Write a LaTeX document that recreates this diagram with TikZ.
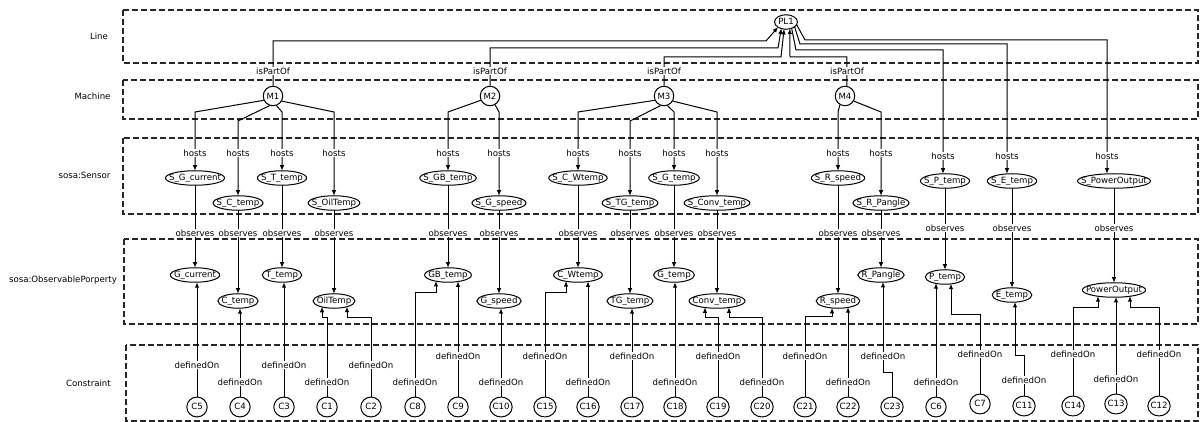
\documentclass[tikz,border=0pt]{standalone}
\usepackage{fontspec}
\setmainfont{DejaVu Sans}
\usetikzlibrary{arrows.meta,calc}
\begin{document}
\begin{tikzpicture}[x=1pt,y=-1pt,
 every node/.style={font=\fontsize{8.6}{10}\selectfont, text=black},
 ent/.style={inner xsep=3.5pt, inner ysep=3pt, text height=6.2pt, text depth=1.9pt},
 cnd/.style={inner xsep=2.5pt, inner ysep=2pt, text height=6.2pt, text depth=1.9pt, minimum width=20pt, minimum height=19.5pt},
 mach/.style={draw, circle, line width=1pt, inner sep=0pt, minimum size=19.5pt},
 lay/.style={dash pattern=on 6pt off 3pt, line width=1.1pt, draw=black!85},
 conn/.style={line width=1pt},
 arr/.style={conn, -{Latex[length=5.5pt,width=4.5pt]}},
 lbl/.style={fill=white, inner sep=1pt},
]
\useasboundingbox (0,0) rectangle (1203,422);

% layer boxes
\draw[lay] (123,10) rectangle (1198,63);
\draw[lay] (123,80) rectangle (1198,119);
\draw[lay] (123,138) rectangle (1198,214);
\draw[lay] (124,239) rectangle (1198,324);
\draw[lay] (126,345) rectangle (1198,421);

% layer labels
\node (lLine) at (99,36) {Line};
\node (lMachine) at (92.5,96) {Machine};
\node (lSensor) at (84.5,175) {sosa:Sensor};
\node (lProp) at (63,280) {sosa:ObservablePorperty};
\node (lConstraint) at (88.5,383) {Constraint};

% line and machines
\node[ent] (PL1) at (786,22) {PL1};
\node[mach] (M1) at (273,96) {M1};
\node[mach] (M2) at (490,96) {M2};
\node[mach] (M3) at (664,96) {M3};
\node[mach] (M4) at (845,96) {M4};

% sensors
\node[ent] (S_G_current) at (195,178) {S\_G\_current};
\node[ent] (S_C_temp) at (238,203) {S\_C\_temp};
\node[ent] (S_T_temp) at (282,178) {S\_T\_temp};
\node[ent] (S_OilTemp) at (334,203) {S\_OilTemp};
\node[ent] (S_GB_temp) at (448,178) {S\_GB\_temp};
\node[ent] (S_G_speed) at (499,203) {S\_G\_speed};
\node[ent] (S_C_Wtemp) at (578,178) {S\_C\_Wtemp};
\node[ent] (S_TG_temp) at (630,203) {S\_TG\_temp};
\node[ent] (S_G_temp) at (674,178) {S\_G\_temp};
\node[ent] (S_Conv_temp) at (717,203) {S\_Conv\_temp};
\node[ent] (S_R_speed) at (838,178) {S\_R\_speed};
\node[ent] (S_R_Pangle) at (881,203) {S\_R\_Pangle};
\node[ent] (S_P_temp) at (945,181) {S\_P\_temp};
\node[ent] (S_E_temp) at (1012,181) {S\_E\_temp};
\node[ent] (S_PowerOutput) at (1114,181) {S\_PowerOutput};

% observable properties
\node[ent] (G_current) at (195,275) {G\_current};
\node[ent] (C_temp) at (238,301) {C\_temp};
\node[ent] (T_temp) at (282,275) {T\_temp};
\node[ent] (OilTemp) at (334,301) {OilTemp};
\node[ent] (GB_temp) at (448,275) {GB\_temp};
\node[ent] (G_speed) at (499,301) {G\_speed};
\node[ent] (C_Wtemp) at (578,275) {C\_Wtemp};
\node[ent] (TG_temp) at (630,301) {TG\_temp};
\node[ent] (G_temp) at (674,275) {G\_temp};
\node[ent] (Conv_temp) at (717,301) {Conv\_temp};
\node[ent] (R_speed) at (838,301) {R\_speed};
\node[ent] (R_Pangle) at (881,275) {R\_Pangle};
\node[ent] (P_temp) at (945,277) {P\_temp};
\node[ent] (E_temp) at (1012,295) {E\_temp};
\node[ent] (PowerOutput) at (1114,290) {PowerOutput};

% constraints
\node[cnd] (C5) at (197,407) {C5};
\node[cnd] (C4) at (240,407) {C4};
\node[cnd] (C3) at (284,407) {C3};
\node[cnd] (C1) at (327,407) {C1};
\node[cnd] (C2) at (371,407) {C2};
\node[cnd] (C8) at (415,407) {C8};
\node[cnd] (C9) at (458,407) {C9};
\node[cnd] (C10) at (501,407) {C10};
\node[cnd] (C15) at (545,407) {C15};
\node[cnd] (C16) at (588,407) {C16};
\node[cnd] (C17) at (632,407) {C17};
\node[cnd] (C18) at (675,407) {C18};
\node[cnd] (C19) at (718,407) {C19};
\node[cnd] (C20) at (762,407) {C20};
\node[cnd] (C21) at (805,407) {C21};
\node[cnd] (C22) at (848,407) {C22};
\node[cnd] (C23) at (892,407) {C23};
\node[cnd] (C6) at (936,407) {C6};
\node[cnd] (C7) at (980,404) {C7};
\node[cnd] (C11) at (1024,406) {C11};
\node[cnd] (C14) at (1073,406) {C14};
\node[cnd] (C13) at (1116,404) {C13};
\node[cnd] (C12) at (1159,406) {C12};

% ellipses around entity and constraint nodes
\foreach \nn in {PL1,S_G_current,S_C_temp,S_T_temp,S_OilTemp,S_GB_temp,S_G_speed,S_C_Wtemp,S_TG_temp,S_G_temp,S_Conv_temp,S_R_speed,S_R_Pangle,S_P_temp,S_E_temp,S_PowerOutput,G_current,C_temp,T_temp,OilTemp,GB_temp,G_speed,C_Wtemp,TG_temp,G_temp,Conv_temp,R_speed,R_Pangle,P_temp,E_temp,PowerOutput,C5,C4,C3,C1,C2,C8,C9,C10,C15,C16,C17,C18,C19,C20,C21,C22,C23,C6,C7,C11,C14,C13,C12}
  \draw[conn] let \p1=(\nn.north east), \p2=(\nn.center) in (\p2) ellipse [x radius={(\x1)-(\x2)}, y radius={(\y1)-(\y2)}];

% isPartOf
\draw[arr] (M1.north) -- (M1.north |- 0,41) -- (766,41) -- ($(PL1.center)+(-7.9,5)$);
\draw[arr] (M2.north) -- (M2.north |- 0,48) -- (778,48) -- ($(PL1.center)+(-4.7,6.4)$);
\draw[arr] (M3.north) -- (M3.north |- 0,57) -- (781,57) -- ($(PL1.center)+(-1.9,6.9)$);
\draw[arr] (M4.80) -- (M4.80 |- 0,57) -- (790,57) -- ($(PL1.center)+(3.8,6.6)$);

% hosts from PL1
\draw[arr] ($(PL1.center)+(10.5,2.4)$) -- (805,40) -- (1107,40) -- ($(S_PowerOutput.north)+(-7,0)$);
\draw[arr] ($(PL1.center)+(8.5,4.5)$) -- (800,44) -- (1007,44) -- ($(S_E_temp.north)+(-5,0)$);
\draw[arr] ($(PL1.center)+(5.6,6.1)$) -- (796,50) -- (943,50) -- ($(S_P_temp.north)+(-2,0)$);

% hosts from machines
\draw[arr] (M1.205) -- (195,112) -- (S_G_current.north);
\draw[arr] (M1.250) -- (238,121) -- (S_C_temp.north);
\draw[arr] (M1.290) -- (282,112) -- (S_T_temp.north);
\draw[arr] (M1.330) -- (334,112) -- (S_OilTemp.north);
\draw[arr] (M2.205) -- (448,112) -- (S_GB_temp.north);
\draw[arr] (M2.300) -- (499,112) -- (S_G_speed.north);
\draw[arr] (M3.205) -- (578,112) -- (S_C_Wtemp.north);
\draw[arr] (M3.250) -- (630,121) -- (S_TG_temp.north);
\draw[arr] (M3.290) -- (674,112) -- (S_G_temp.north);
\draw[arr] (M3.330) -- (717,112) -- (S_Conv_temp.north);
\draw[arr] (M4.240) -- (838,112) -- (S_R_speed.north);
\draw[arr] (M4.330) -- (881,112) -- (S_R_Pangle.north);

% observes
\foreach \s/\p in {S_G_current/G_current,S_C_temp/C_temp,S_T_temp/T_temp,S_OilTemp/OilTemp,S_GB_temp/GB_temp,S_G_speed/G_speed,S_C_Wtemp/C_Wtemp,S_TG_temp/TG_temp,S_G_temp/G_temp,S_Conv_temp/Conv_temp,S_R_speed/R_speed,S_R_Pangle/R_Pangle,S_P_temp/P_temp,S_E_temp/E_temp,S_PowerOutput/PowerOutput}
  \draw[arr] (\s.south) -- (\p.north);

% definedOn
\draw[arr] (C5.north) -- (C5.north |- G_current.south);
\draw[arr] (C4.north) -- (C4.north |- C_temp.south);
\draw[arr] (C3.north) -- (C3.north |- T_temp.south);
\draw[arr] (C1.north) -- (327,318) -- (322,318) -- ($(OilTemp.center)+(-12,5.8)$);
\draw[arr] (C2.north) -- (371,318) -- (347,318) -- ($(OilTemp.center)+(13,5.6)$);
\draw[arr] (C8.north) -- (415,293) -- (436,293) -- ($(GB_temp.center)+(-12,6)$);
\draw[arr] (C9.north) -- ($(GB_temp.center)+(10,6.35)$);
\draw[arr] (C10.north) -- (C10.north |- G_speed.south);
\draw[arr] (C15.north) -- (545,293) -- (566,293) -- ($(C_Wtemp.center)+(-12,6.1)$);
\draw[arr] (C16.north) -- ($(C_Wtemp.center)+(10,6.4)$);
\draw[arr] (C17.north) -- (C17.north |- TG_temp.south);
\draw[arr] (C18.north) -- (C18.north |- G_temp.south);
\draw[arr] (C19.north) -- (718,318) -- (705,318) -- ($(Conv_temp.center)+(-12,6.35)$);
\draw[arr] (C20.north) -- (762,318) -- (729,318) -- ($(Conv_temp.center)+(12,6.35)$);
\draw[arr] (C21.north) -- (805,317) -- (832,317) -- ($(R_speed.center)+(-6,6.8)$);
\draw[arr] (C22.north) -- ($(R_speed.center)+(10,6.2)$);
\draw[arr] (C23.north) -- (892,372) -- (883,372) -- ($(R_Pangle.center)+(2,7)$);
\draw[arr] (C6.north) -- ($(P_temp.center)+(-9,6.2)$);
\draw[arr] (C7.north) -- (980,315) -- (951,315) -- ($(P_temp.center)+(6,6.7)$);
\draw[arr] (C11.north) -- (1024,355) -- (1015,355) -- ($(E_temp.center)+(3,7)$);
\draw[arr] (C14.north) -- (1073,308) -- (1098,308) -- ($(PowerOutput.center)+(-16,6.1)$);
\draw[arr] (C13.north) -- ($(PowerOutput.center)+(2,7)$);
\draw[arr] (C12.north) -- (1159,308) -- (1130,308) -- ($(PowerOutput.center)+(16,6.1)$);

% labels
\foreach \x in {273,490,664,847} \node[lbl] at (\x,71) {isPartOf};
\foreach \x in {195,238,282,334,448,499,578,630,674,717,838,881} \node[lbl] at (\x,153) {hosts};
\foreach \x in {943,1007,1107} \node[lbl] at (\x,156) {hosts};
\foreach \x in {195,238,282,334,448,499,578,630,674,717,838,881} \node[lbl] at (\x,233) {observes};
\foreach \x in {945,1012,1114} \node[lbl] at (\x,228) {observes};
\foreach \x/\y in {197/365,284/365,371/365,458/356,545/356,632/356,718/356,805/356,883/356,980/354,1073/354,1159/354,240/382,327/382,415/382,501/382,588/382,675/382,762/382,848/382,936/382,1024/380,1116/379}
  \node[lbl] at (\x,\y) {definedOn};
\end{tikzpicture}
\end{document}
